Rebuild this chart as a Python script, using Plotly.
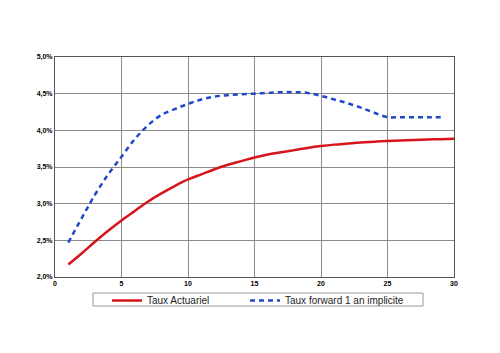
import plotly.graph_objects as go

years_actuariel = list(range(1, 31))
taux_actuariel = [2.17, 2.32, 2.48, 2.63, 2.77, 2.90, 3.03, 3.14, 3.24, 3.33,
                  3.40, 3.47, 3.53, 3.58, 3.63, 3.67, 3.70, 3.73, 3.76, 3.785,
                  3.805, 3.82, 3.835, 3.845, 3.855, 3.862, 3.868, 3.874, 3.88, 3.886]

years_forward = list(range(1, 30))
taux_forward = [2.47, 2.80, 3.12, 3.40, 3.64, 3.88, 4.07, 4.21, 4.29, 4.36,
                4.42, 4.46, 4.48, 4.49, 4.50, 4.51, 4.52, 4.52, 4.51, 4.47,
                4.42, 4.37, 4.31, 4.24, 4.18, 4.18, 4.18, 4.18, 4.18]

x_ticks = [0, 5, 10, 15, 20, 25, 30]
y_ticks = [2.0, 2.5, 3.0, 3.5, 4.0, 4.5, 5.0]

fig = go.Figure()
fig.add_trace(go.Scatter(
    x=years_actuariel, y=[v / 100 for v in taux_actuariel], mode="lines",
    name="Taux Actuariel", legend="legend",
    line=dict(color="#d7141a", width=2.5, shape="spline")))
fig.add_trace(go.Scatter(
    x=years_forward, y=[v / 100 for v in taux_forward], mode="lines",
    name="Taux forward 1 an implicite", legend="legend2",
    line=dict(color="#1f49c8", width=2.5, dash="5px,4px", shape="spline")))

tick_font = dict(family="Liberation Sans, Arial", size=7, color="#000000", weight="bold")
leg_font = dict(family="Liberation Sans, Arial", size=10, color="#222")
leg_y = -(286 - 277) / 220
fig.update_layout(
    width=500, height=353,
    margin=dict(l=55, r=46, t=57, b=76),
    paper_bgcolor="white", plot_bgcolor="white",
    separators=", ",
    showlegend=True,
    font=dict(family="Liberation Sans, Arial"),
    legend=dict(orientation="h", x=(107 - 55) / 399, xanchor="left",
                y=leg_y, yanchor="top", font=leg_font,
                bgcolor="rgba(0,0,0,0)", itemwidth=30),
    legend2=dict(orientation="h", x=(245 - 55) / 399, xanchor="left",
                 y=leg_y, yanchor="top", font=leg_font,
                 bgcolor="rgba(0,0,0,0)", itemwidth=30),
    xaxis=dict(range=[0, 30], tickvals=x_ticks, showgrid=True, gridcolor="#8a8a8a",
               gridwidth=1, zeroline=False, showline=True, linecolor="#555",
               linewidth=1, mirror=True, ticks="", tickfont=tick_font,
               fixedrange=True),
    yaxis=dict(range=[0.02, 0.05], tickvals=[v / 100 for v in y_ticks],
               tickformat=".1%", showgrid=True, gridcolor="#8a8a8a", gridwidth=1,
               zeroline=False, showline=True, linecolor="#555", linewidth=1,
               mirror=True, ticks="", tickfont=tick_font, fixedrange=True),
    shapes=[dict(type="rect", xref="paper", yref="paper",
                 x0=(93 - 55) / 399, x1=(423 - 55) / 399,
                 y0=-(306 - 277) / 220, y1=-(293 - 277) / 220,
                 line=dict(color="#999", width=1))],
)

fig.write_html("out.html", config={"displayModeBar": False})
